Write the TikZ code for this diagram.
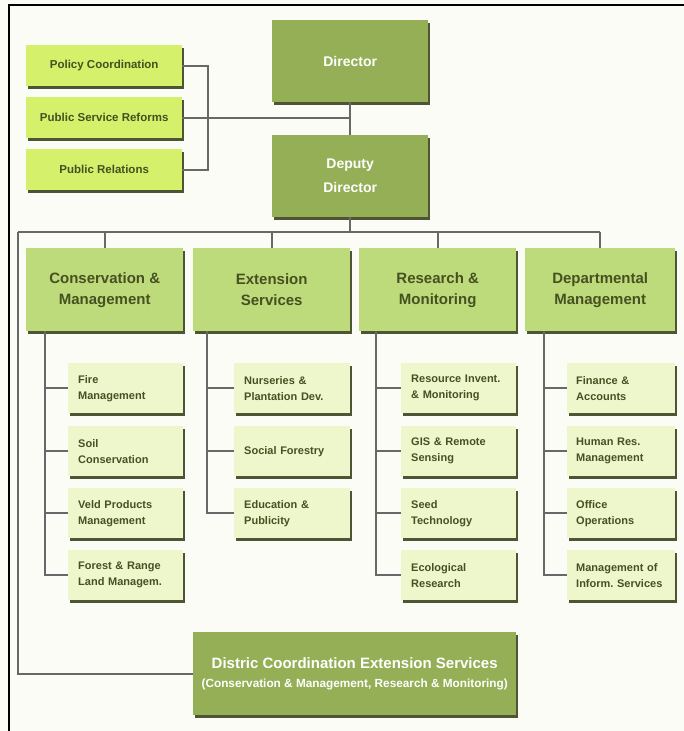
\documentclass[tikz,border=0pt]{standalone}
\usepackage{fontspec}
\setmainfont{Liberation Sans}
\usetikzlibrary{shadows}
\frenchspacing
\definecolor{bg}{HTML}{FAFCF5}
\definecolor{darkg}{HTML}{95AF57}
\definecolor{midg}{HTML}{BEDB7C}
\definecolor{limeg}{HTML}{D5F06B}
\definecolor{paleg}{HTML}{EDF7CB}
\definecolor{txtc}{HTML}{465020}
\definecolor{shad}{HTML}{4D5535}
\definecolor{linec}{HTML}{686868}
\tikzset{
  conn/.style={draw=linec, line width=1.6pt},
  base/.style={anchor=north west, inner sep=0pt,
    drop shadow={shadow xshift=1.5pt, shadow yshift=-2.5pt, fill=shad, opacity=1}},
  topbox/.style={base, fill=darkg, text=white, minimum width=156pt, minimum height=82pt,
    align=center, font=\fontsize{14}{24}\selectfont\bfseries},
  sidebox/.style={base, fill=limeg, text=txtc, minimum width=156pt, minimum height=41pt,
    font=\fontsize{11.5}{14}\selectfont\bfseries},
  catbox/.style={base, fill=midg, text=txtc, minimum height=83pt, align=center,
    font=\fontsize{15}{21}\selectfont\bfseries},
  subbox/.style={base, fill=paleg, text=txtc, minimum height=50pt, align=left,
    inner xsep=10pt, text width=95pt, font=\fontsize{11}{16}\selectfont\bfseries},
  subboxd/.style={subbox, inner xsep=9pt, text width=90pt},
  distbox/.style={base, fill=darkg, text=white, minimum width=323pt, minimum height=83pt,
    align=center, font=\fontsize{15}{20}\selectfont\bfseries}
}
\begin{document}
\begin{tikzpicture}[x=1pt,y=-1pt]
\useasboundingbox[fill=bg] (0,0) rectangle (684,731);
\draw[line width=2pt] (9,731) -- (9,5) -- (684,5);

% top
\node[topbox] (dir) at (272,20) {Director};
\node[topbox] (dep) at (272,135) {Deputy\\Director};
\node[sidebox] (pc) at (26,45) {Policy Coordination};
\node[sidebox] (psr) at (26,97) {Public Service Reforms};
\node[sidebox] (pr) at (26,149) {Public Relations};

% categories
\node[catbox, minimum width=157pt] (cm) at (26,248) {Conservation \&\\Management};
\node[catbox, minimum width=157pt] (es) at (193,248) {Extension\\Services};
\node[catbox, minimum width=157pt] (rm) at (359,248) {Research \&\\Monitoring};
\node[catbox, minimum width=150pt] (dm) at (525,248) {Departmental\\Management};

% sub boxes
\node[subbox] (cm1) at (68,363) {Fire\\Management};
\node[subbox] (cm2) at (68,426) {Soil\\Conservation};
\node[subbox] (cm3) at (68,488) {Veld Products\\Management};
\node[subbox] (cm4) at (68,550) {Forest \& Range\\Land Managem.};

\node[subbox, text width=96pt] (es1) at (234,363) {Nurseries \&\\Plantation Dev.};
\node[subbox, text width=96pt] (es2) at (234,426) {Social Forestry};
\node[subbox, text width=96pt] (es3) at (234,488) {Education \&\\Publicity};

\node[subbox] (rm1) at (401,363) {Resource Invent.\\\& Monitoring};
\node[subbox] (rm2) at (401,426) {GIS \& Remote\\Sensing};
\node[subbox] (rm3) at (401,488) {Seed\\Technology};
\node[subbox] (rm4) at (401,550) {Ecological\\Research};

\node[subboxd] (dm1) at (567,363) {Finance \&\\Accounts};
\node[subboxd] (dm2) at (567,426) {Human Res.\\Management};
\node[subboxd] (dm3) at (567,488) {Office\\Operations};
\node[subboxd] (dm4) at (567,550) {Management of\\Inform. Services};

% district
\node[distbox] (dc) at (193,632) {Distric Coordination Extension Services\\[-1pt]{\fontsize{11.8}{20}\selectfont (Conservation \& Management, Research \& Monitoring)}};

% connectors
\coordinate (brk) at (208,0);
\draw[conn] (pc.east) -- (pc.east -| brk) -- (pr.east -| brk) -- (pr.east);
\draw[conn] (psr.east) -- (psr.east -| dir.south);
\draw[conn] (dir.south) -- (dep.north);

\coordinate (busL) at (18,232);
\draw[conn] (dep.south) -- (dep.south |- busL);
\draw[conn] (busL) -- (dm.north |- busL);
\foreach \n in {cm,es,rm,dm} \draw[conn] (\n.north) -- (\n.north |- busL);
\draw[conn] (busL) |- (dc.west);

\coordinate (cmx) at (45,0);
\coordinate (esx) at (207,0);
\coordinate (rmx) at (376,0);
\coordinate (dmx) at (544,0);
\draw[conn] (cm.south -| cmx) |- (cm4.west);
\foreach \s in {cm1,cm2,cm3} \draw[conn] (\s.west) -- (\s.west -| cmx);
\draw[conn] (es.south -| esx) |- (es3.west);
\foreach \s in {es1,es2} \draw[conn] (\s.west) -- (\s.west -| esx);
\draw[conn] (rm.south -| rmx) |- (rm4.west);
\foreach \s in {rm1,rm2,rm3} \draw[conn] (\s.west) -- (\s.west -| rmx);
\draw[conn] (dm.south -| dmx) |- (dm4.west);
\foreach \s in {dm1,dm2,dm3} \draw[conn] (\s.west) -- (\s.west -| dmx);
\end{tikzpicture}
\end{document}
